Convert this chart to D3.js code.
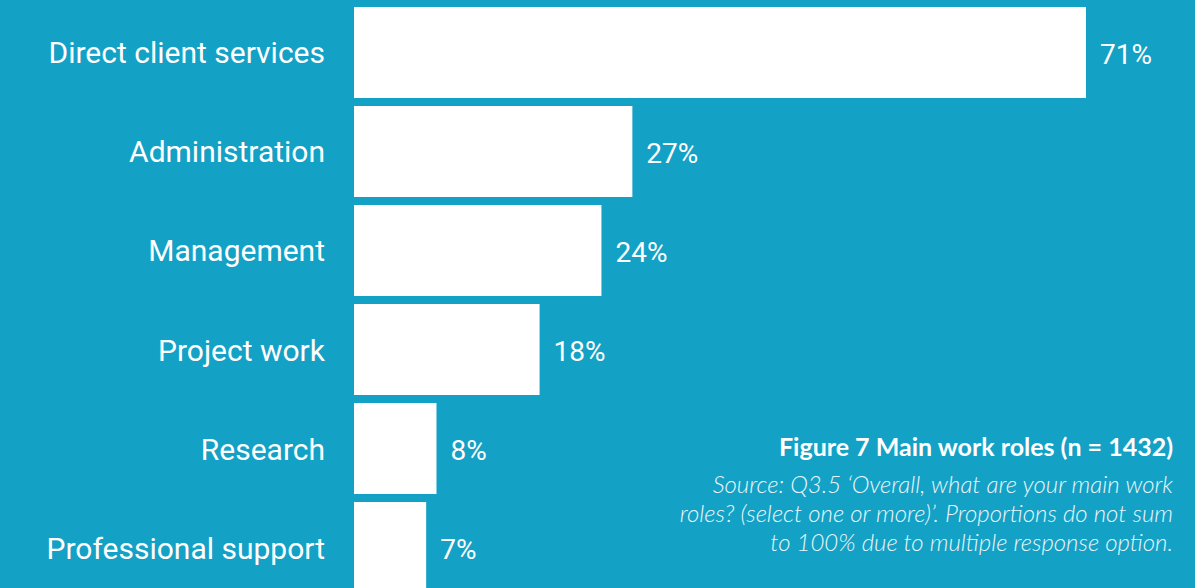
<!DOCTYPE html>
<html>
<head>
<meta charset="utf-8">
<script src="https://cdn.jsdelivr.net/npm/d3@7"></script>
<style>
  html, body { margin: 0; padding: 0; background: #14a1c6; overflow: hidden; }
  svg { display: block; }
</style>
</head>
<body>
<svg id="chart" width="1195" height="588"></svg>
<script>
// Main work roles, share of respondents (%)
const categories = ["Direct client services", "Administration", "Management", "Project work", "Research", "Professional support"];
const values = [71, 27, 24, 18, 8, 7];
const titleText = "Figure 7 Main work roles (n = 1432)";
const sourceLines = [
  "Source: Q3.5 \u2018Overall, what are your main work",
  "roles? (select one or more)\u2019. Proportions do not sum",
  "to 100% due to multiple response option."
];

const svg = d3.select("#chart");
const bg = "#14a1c6";

const x = d3.scaleLinear().domain([0, 71]).range([354, 1086]);
const y = d3.scaleBand().domain(categories).range([7, 593]).paddingInner(0.081).paddingOuter(0);
const mid = d => y(d) + y.bandwidth() / 2;

svg.append("rect").attr("width", 1195).attr("height", 588).attr("fill", bg);

svg.selectAll("rect.bar")
  .data(values)
  .join("rect")
  .attr("class", "bar")
  .attr("x", x(0))
  .attr("y", (d, i) => y(categories[i]))
  .attr("width", d => x(d) - x(0))
  .attr("height", y.bandwidth())
  .attr("fill", "#ffffff");

// Category names, right-aligned against the bars
svg.selectAll("text.cat")
  .data(categories)
  .join("text")
  .attr("class", "cat")
  .attr("x", 325)
  .attr("y", d => mid(d) + 11)
  .attr("text-anchor", "end")
  .attr("font-family", "Roboto, sans-serif")
  .attr("font-weight", 400)
  .attr("font-size", 30)
  .attr("fill", "#ffffff")
  .text(d => d);

// Percentage labels at the end of each bar
svg.selectAll("text.val")
  .data(values)
  .join("text")
  .attr("class", "val")
  .attr("x", d => x(d) + 14)
  .attr("y", (d, i) => mid(categories[i]) + 11.5)
  .attr("font-family", "Roboto, sans-serif")
  .attr("font-weight", 400)
  .attr("font-size", 28)
  .attr("fill", "#ffffff")
  .text(d => d + "%");

svg.append("text")
  .attr("x", 1173)
  .attr("y", 456)
  .attr("text-anchor", "end")
  .attr("font-family", "Lato, sans-serif")
  .attr("font-weight", 700)
  .attr("font-size", 25)
  .attr("fill", "#ffffff")
  .text(titleText);

svg.selectAll("text.src")
  .data(sourceLines)
  .join("text")
  .attr("class", "src")
  .attr("x", 1173)
  .attr("y", (d, i) => 493 + i * 29.2)
  .attr("text-anchor", "end")
  .attr("font-family", "Lato, sans-serif")
  .attr("font-style", "italic")
  .attr("font-weight", 300)
  .attr("font-size", 24)
  .attr("fill", "#eaf6fa")
  .text(d => d);
</script>
</body>
</html>
